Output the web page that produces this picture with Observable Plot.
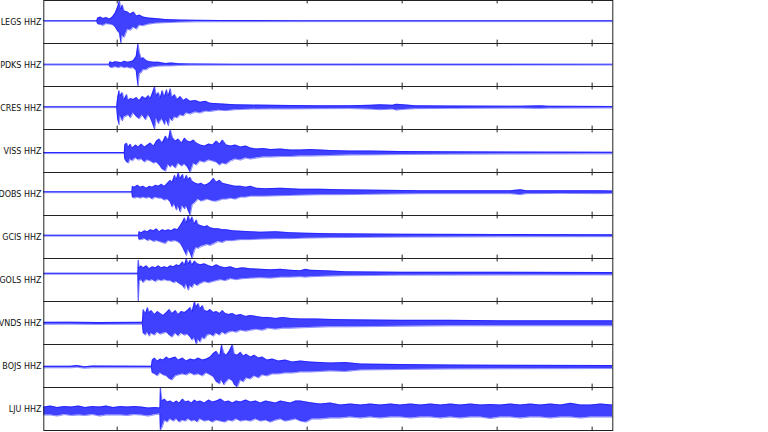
<!DOCTYPE html>
<html>
<head>
<meta charset="utf-8">
<script src="https://cdn.jsdelivr.net/npm/d3@7"></script>
<script src="https://cdn.jsdelivr.net/npm/@observablehq/plot@0.6"></script>
<style>
  html, body { margin: 0; padding: 0; background: #fff; }
  #chart svg { display: block; }
</style>
</head>
<body>
<div id="chart"></div>
<script>
// Station order (top to bottom) and channel
const stations = ["LEGS", "PDKS", "CRES", "VISS", "DOBS", "GCIS", "GOLS", "VNDS", "BOJS", "LJU"];
const channel = "HHZ";
const xTicks = [0, 20, 40, 60, 80, 100];

// Envelope readings per station: [time (s), upper amplitude, lower amplitude]
const LEGS = [[-15.5,.4,-.4],[-4.3,.4,-.4],[-4.1,3,-3],[-3.5,4,-3.5],[-2.9,2.5,-4.3],[-2.3,3.5,-2.5],[-1.6,2,-3],[-1.0,4,-3.5],[-0.4,8,-6],[0.1,14,-10],[0.5,20.3,-12],[0.8,12,-22],[1.1,16,-14],[1.5,10,-16],[2.2,9,-8],[2.8,7,-9],[3.5,9,-6],[4.1,5,-8],[4.7,6,-4],[5.5,4,-4.5],[6.6,3,-3],[8.1,2.5,-2],[10.2,1.5,-1.5],[13.3,1,-1],[16.5,.8,-.7],[21.8,.6,-.6],[38.6,.5,-.5],[104.3,.5,-.5]];
const PDKS = [[-15.5,.4,-.4],[-1.7,.4,-.4],[-1.5,3,-2.5],[-1.0,2,-3],[-0.4,3,-2],[0.3,2.5,-3],[0.9,2,-2],[1.5,3.5,-3],[2.2,2.5,-2.5],[2.8,3,-3.5],[3.4,4,-3],[4.0,8,-6],[4.4,21,-21.6],[4.7,12,-9],[5.1,6,-8],[5.5,7,-5],[6.2,4,-5],[6.8,3,-3],[7.7,2.5,-2],[8.7,2.5,-1.5],[10.2,1.2,-1.2],[11.4,1.8,-1.2],[12.9,1,-.8],[15.4,.8,-.6],[23.9,.5,-.5],[104.3,.4,-.4]];
const CRES = [[-15.5,.5,-.5],[-0.1,.5,-.5],[0.1,10,-12],[0.4,17,-18],[0.7,12,-8],[1.1,15,-14],[1.5,8,-10],[2.0,13,-9],[2.4,7,-8],[2.8,9,-11],[3.4,8,-6],[4.1,10,-10],[4.7,7,-12],[5.3,11,-8],[6.0,9,-13],[6.6,12,-8],[7.0,9,-11],[7.4,14,-16],[7.9,21.2,-22.8],[8.3,12,-10],[8.7,15,-17],[9.1,10,-14],[9.5,17,-12],[10.0,11,-18],[10.4,18,-13],[10.8,12,-19],[11.2,19,-11],[11.6,10,-14],[12.1,13,-10],[12.7,8,-11],[13.3,11,-8],[14.0,7,-9],[14.6,9,-6],[15.4,6,-7],[16.5,7,-5],[17.5,5,-6],[18.6,6,-4],[19.6,4,-4.5],[21.3,3.5,-3],[23.0,3,-3.5],[24.9,2.5,-2.5],[28.1,2.2,-2],[32.3,2,-1.8],[36.5,1.8,-1.8],[42.8,1.5,-1.5],[49.1,1.6,-1.4],[53.3,2,-2],[55.4,2.5,-2.5],[58.0,2,-2],[58.8,3,-3],[59.6,2.8,-2.5],[62.8,1.5,-1.5],[70.2,1.2,-1.2],[84.9,1.1,-1],[89.1,1.4,-1.4],[90.8,1,-1],[104.3,.8,-.8]];
const VISS = [[-15.5,.5,-.5],[1.5,.5,-.5],[1.6,8,-6],[2.0,10,-9],[2.4,6,-10],[2.8,9,-6],[3.2,5,-8],[3.9,8,-5],[4.5,6,-7],[5.1,9,-6],[5.8,6,-9],[6.4,8,-7],[7.0,10,-8],[7.7,7,-10],[8.3,12,-9],[8.9,14,-12],[9.5,10,-16],[10.2,17,-18],[10.8,13,-11],[11.2,23.4,-14],[11.7,15,-12],[12.3,12,-15],[12.9,14,-10],[13.6,10,-13],[14.2,15,-11],[14.8,12,-14],[15.4,11,-19.3],[16.1,13,-10],[16.7,10,-12],[17.5,8,-8],[18.4,7,-9],[19.3,9,-7],[20.1,8,-8],[20.9,12,-9],[21.6,9,-12],[22.2,13,-10],[23.0,8,-11],[23.9,7,-8],[24.9,8,-6],[26.0,6,-7],[27.1,7,-5],[28.1,5,-6],[29.3,4,-5],[30.8,4.5,-4],[32.3,3.5,-4],[34.4,4,-3.5],[36.5,3,-3.5],[38.6,3,-3],[40.7,3.5,-3],[44.9,2.5,-2.5],[49.1,2,-2],[53.3,2,-1.8],[59.6,1.5,-1.5],[70.2,1.2,-1.2],[84.9,1,-1],[104.3,.8,-.8]];
const DOBS = [[-15.5,.5,-.5],[3.1,.5,-.5],[3.2,6,-5],[3.6,5,-6],[4.3,7,-5],[4.9,5,-6],[5.5,6,-5],[6.2,4,-6],[6.8,6,-5],[7.4,5,-7],[8.1,7,-5],[8.7,6,-6],[9.3,8,-6],[10.0,6,-8],[10.6,9,-7],[11.2,12,-10],[11.6,10,-15],[12.1,17,-12],[12.5,13,-18],[12.9,19.7,-14],[13.3,14,-20],[13.8,18,-13],[14.2,12,-17],[14.6,17,-14],[15.0,13,-19],[15.4,15,-23.3],[15.8,11,-13],[16.5,9,-10],[17.1,8,-7],[17.7,9,-9],[18.4,7,-8],[19.0,8,-7],[19.6,10,-8],[20.3,14,-9],[20.9,10,-9],[21.6,12,-8],[22.2,9,-7],[23.0,8,-7],[23.9,7,-6],[24.9,6,-7],[26.0,6,-5],[27.1,5,-5],[28.1,6,-4],[29.3,4,-4],[31.2,3.5,-4],[34.4,4,-3.5],[38.6,3,-3],[42.8,3,-2.5],[47.0,2.5,-2.5],[55.4,2,-2],[63.9,1.5,-1.5],[74.4,1.5,-1.5],[82.8,1.5,-1.5],[84.9,2.5,-2.5],[86.2,1.5,-1.5],[93.4,1.5,-1.2],[101.8,1.5,-1.5],[104.3,1.2,-1.2]];
const GCIS = [[-15.5,.5,-.5],[4.5,.5,-.5],[4.6,4,-4],[5.1,3,-4],[5.8,5,-3],[6.4,4,-5],[7.0,6,-4],[7.7,5,-6],[8.3,7,-5],[8.9,4,-6],[9.5,6,-7],[10.2,5,-8],[10.8,6,-5],[11.4,5,-6],[12.1,7,-5],[12.7,6,-6],[13.3,10,-8],[13.8,14,-12],[14.2,18,-16],[14.6,13,-20],[15.0,20.3,-14],[15.4,15,-18],[15.8,19,-23],[16.3,12,-15],[16.7,16,-12],[17.1,11,-13],[17.7,10,-11],[18.4,9,-10],[19.0,10,-9],[19.6,8,-10],[20.5,7,-8],[21.3,7,-6],[22.2,6,-7],[23.0,6,-5],[24.3,5,-5],[26.0,4.5,-4],[28.1,4,-4],[30.2,3.5,-3.5],[33.4,4,-3],[36.5,3,-3],[39.7,2.5,-2.5],[44.9,2,-2],[59.6,1.5,-1.5],[80.7,1.2,-1.2],[104.3,1,-1]];
const GOLS = [[-15.5,.5,-.5],[4.35,.5,-.5],[4.45,14,-28],[4.7,6,-8],[5.1,8,-6],[5.5,6,-9],[6.2,8,-6],[6.8,5,-7],[7.4,7,-6],[8.1,6,-8],[8.7,8,-6],[9.3,6,-7],[10.0,7,-6],[10.6,6,-7],[11.2,8,-7],[11.9,7,-9],[12.5,9,-8],[13.1,8,-10],[13.8,12,-12],[14.2,9,-15],[14.6,15.4,-10],[15.0,10,-16.7],[15.4,14,-12],[15.8,9,-14],[16.3,13,-10],[16.9,10,-12],[17.5,9,-10],[18.4,10,-8],[19.3,8,-9],[20.1,7,-8],[20.9,9,-7],[21.8,7,-6],[22.8,6,-7],[23.9,7,-5],[25.1,5,-6],[26.4,6,-5],[28.1,5,-4.5],[30.2,4.5,-4],[32.3,4,-4.5],[34.4,4.5,-3.5],[36.5,3.5,-3.5],[38.6,3,-3],[39.7,4.5,-3.5],[40.7,3.5,-3],[43.9,3,-2.5],[48.1,2,-2],[59.6,1.5,-1.5],[80.7,1.5,-1.3],[104.3,1.2,-1.2]];
const VNDS = [[-15.5,1,-1],[-10,1.2,-.9],[-4,.9,-1.1],[5.3,1,-1],[5.5,14,-10],[6.0,10,-12],[6.4,16,-9],[6.8,11,-13],[7.2,13,-10],[7.9,9,-12],[8.5,12,-9],[9.1,10,-11],[9.7,8,-10],[10.4,11,-9],[11.0,14,-12],[11.6,10,-14],[12.3,13,-10],[12.9,9,-13],[13.5,12,-10],[14.2,11,-12],[14.8,13,-11],[15.4,16,-14],[15.8,12,-17],[16.3,22,-15],[16.7,17,-21.3],[17.1,20,-16],[17.5,15,-19],[18.0,18,-14],[18.4,13,-16],[19.0,12,-12],[19.6,14,-11],[20.3,11,-13],[20.9,12,-10],[21.6,10,-12],[22.2,13,-9],[22.8,10,-11],[23.5,9,-9],[24.3,10,-8],[25.1,8,-9],[26.0,9,-7],[27.1,7,-8],[28.1,8,-7],[29.3,7,-6],[30.6,6,-7],[31.9,6,-5],[33.4,5,-6],[34.9,6,-5],[36.5,5,-5],[38.6,4.5,-4.5],[41.8,4.5,-4],[44.9,4,-3.5],[49.1,3.5,-3.5],[59.6,3,-3],[70.2,3,-2.5],[80.7,2.5,-2.5],[104.3,2.5,-2.5]];
const BOJS = [[-15.5,.8,-.8],[-9.8,.8,-.8],[-8.4,1.5,-.3],[-6.9,.3,-1.3],[-5.2,1,-.8],[7.2,.8,-.8],[7.4,7,-6],[7.9,9,-7],[8.5,6,-9],[9.1,8,-6],[9.7,7,-8],[10.4,10,-9],[11.0,8,-12],[11.6,9,-13],[12.3,10,-9],[12.9,7,-8],[13.8,9,-7],[14.6,6,-8],[15.4,8,-6],[16.3,7,-8],[17.1,9,-7],[18.0,7,-9],[18.8,8,-6],[19.6,10,-8],[20.3,14,-10],[20.9,16,-15],[21.6,11,-17],[22.0,22.7,-13],[22.5,14,-18],[23.0,12,-15],[23.6,16,-12],[24.3,22.7,-14],[24.7,13,-18],[25.3,12,-20.6],[26.0,15,-13],[26.6,11,-15],[27.2,13,-11],[28.1,10,-12],[28.9,12,-9],[29.8,9,-11],[30.6,10,-8],[31.6,7,-9],[32.7,8,-7],[34.0,6,-7],[35.4,7,-6],[36.9,5,-6],[38.6,6,-5],[40.7,5,-5],[44.9,4,-4],[48.1,4.5,-4.5],[51.3,3,-3],[59.6,2.5,-2.5],[70.2,2,-2],[80.7,1.8,-1.8],[104.3,1.5,-1.5]];
const LJU = [[-15.5,4,-4],[-14.0,5,-4],[-12.6,3.5,-5],[-11.1,4.5,-3.5],[-9.6,4,-4.5],[-8.1,5,-4],[-6.7,3.5,-4.5],[-5.2,4.5,-3.5],[-3.7,4,-5],[-2.3,5,-4],[-0.8,3.5,-4],[0.7,4.5,-4],[2.2,4,-4.5],[3.6,4.5,-3.5],[5.1,4,-4],[6.6,3,-5],[8.1,3.5,-3.5],[9.0,3,-3],[9.1,23.4,-19.3],[9.5,10,-16],[10.0,12,-9],[10.6,9,-11],[11.2,10,-8],[11.9,8,-10],[12.5,10,-8],[13.1,8,-11],[13.8,12,-9],[14.4,9,-10],[15.0,10,-8],[15.7,8,-10],[16.3,11,-9],[16.9,9,-11],[17.5,10,-8],[18.4,8,-10],[19.3,11,-9],[20.1,9,-11],[20.9,10,-9],[21.8,12,-10],[22.7,9,-11],[23.5,10,-9],[24.3,8,-10],[25.1,10,-8],[26.0,9,-10],[27.1,11,-9],[28.1,9,-10],[29.2,10,-8],[30.2,8,-10],[31.3,10,-9],[32.3,9,-11],[33.4,8,-9],[34.4,10,-8],[35.4,9,-10],[36.5,8,-9],[37.6,10,-8],[38.6,10,-10],[39.8,9,-11],[41.1,8,-8],[42.8,7,-8],[44.9,8,-7],[47.0,6,-7],[49.1,7,-6],[51.3,6,-7],[53.3,7,-6],[55.4,6,-7],[57.6,7,-6],[59.6,6,-6],[61.8,7,-7],[63.9,6,-6],[66.0,7,-6],[68.1,6,-7],[70.2,7,-6],[72.3,6,-7],[74.4,7,-6],[76.5,6,-6],[78.6,6.5,-7.5],[80.7,6,-6],[82.8,7,-6],[84.9,6,-7],[87.0,7,-6],[89.1,6,-6],[91.2,7,-7],[93.4,6,-6],[95.5,7.7,-6],[97.6,6,-7],[99.7,6,-6],[101.8,7,-6],[104.3,6,-6]];

const traces = {LEGS, PDKS, CRES, VISS, DOBS, GCIS, GOLS, VNDS, BOJS, LJU};

// Build table: each trace scaled to its own min/max (tight per-panel limits)
const band = [];
for (const s of stations) {
  const arr = traces[s];
  const lo = d3.min(arr, d => d[2]);
  const hi = d3.max(arr, d => d[1]);
  const span = hi - lo;
  for (const [t, up, dn] of arr) {
    band.push({station: s, t, u: (up - lo) / span, l: (dn - lo) / span});
  }
}

const W = 768, H = 432;
const mTop = -1, mBottom = 2;
const panelH = (H - mTop - mBottom) / stations.length;
const tickLen = 3.5;

const chart = Plot.plot({
  width: W,
  height: H,
  marginLeft: 43.3,
  marginRight: 155.7,
  marginTop: mTop,
  marginBottom: mBottom,
  style: {fontFamily: "DejaVu Sans, sans-serif", fontSize: "8px", background: "#fff"},
  x: {domain: [-15.45, 104.35], axis: null},
  y: {domain: [0, 1], axis: null},
  fy: {domain: stations, padding: 0},
  marks: [
    Plot.areaY(band, {x: "t", y1: "l", y2: "u", fy: "station", fill: "#0000ff", fillOpacity: 0.75, curve: "linear"}),
    Plot.line(band, {x: "t", y: "u", fy: "station", stroke: "#0000ff", strokeWidth: 0.5, strokeOpacity: 0.85, curve: "linear"}),
    Plot.line(band, {x: "t", y: "l", fy: "station", stroke: "#0000ff", strokeWidth: 0.5, strokeOpacity: 0.85, curve: "linear"}),
    Plot.ruleX(xTicks, {stroke: "#222", strokeWidth: 1, insetBottom: panelH - tickLen}),
    Plot.ruleX(xTicks, {stroke: "#222", strokeWidth: 1, insetTop: panelH - tickLen}),
    Plot.frame({stroke: "#222", strokeWidth: 1}),
    Plot.axisFy({anchor: "left", tickSize: 0, tickPadding: 2.3, label: null, fontSize: 8, fill: "#111",
      tickFormat: s => `${s} ${channel}`})
  ]
});

document.getElementById("chart").appendChild(chart);
</script>
</body>
</html>
